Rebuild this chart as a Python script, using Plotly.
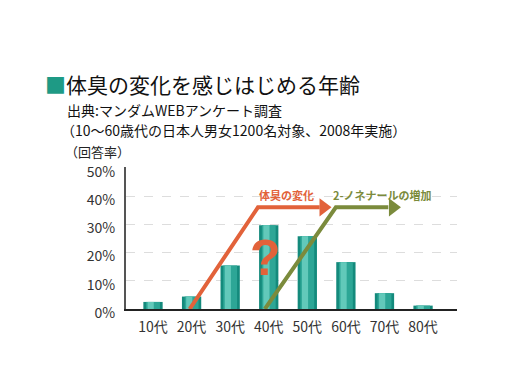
import plotly.graph_objects as go

categories = ["10代", "20代", "30代", "40代", "50代", "60代", "70代", "80代"]
values = [2.5, 4.4, 15.4, 29.7, 25.8, 16.6, 5.6, 1.2]
y_ticks = [0, 10, 20, 30, 40, 50]
y_tick_labels = ["0%", "10%", "20%", "30%", "40%", "50%"]

# arrow paths (category index, %)
orange_x = [0.95, 2.72, 4.32]
orange_y = [0, 36, 36]
orange_head_x = [4.42]
green_x = [2.9, 4.74, 6.1]
green_y = [0, 36, 36]
green_head_x = [6.22]
head_y = [36]

W, H = 512, 384
OFF = 8  # page body margin offset
ML, MR, MT, MB = 126 - OFF, 55 + OFF, 167 - OFF, 75 + OFF
FONT = "Noto Sans CJK JP"
ORANGE = "#E2623A"
GREEN = "#7B8B3C"

def px(x):
    return (x - OFF - ML) / (W - ML - MR)

def py(y):
    return (H - MB - (y - OFF)) / (H - MT - MB)

xs = list(range(len(categories)))
fig = go.Figure()
fig.add_trace(go.Bar(x=xs, y=values, width=0.5, marker=dict(color="#148A7C", line=dict(width=0)),
                     hoverinfo="skip"))
fig.add_trace(go.Bar(x=xs, y=values, width=0.36, marker=dict(color="#2DA696", line=dict(width=0)),
                     hoverinfo="skip"))
fig.add_trace(go.Bar(x=xs, y=values, width=0.16, offset=-0.14, marker=dict(color="#62C9BA", line=dict(width=0)),
                     hoverinfo="skip"))

fig.add_trace(go.Scatter(x=orange_x, y=orange_y, mode="lines",
                         line=dict(color=ORANGE, width=4), hoverinfo="skip"))
fig.add_trace(go.Scatter(x=orange_head_x, y=head_y, mode="markers",
                         marker=dict(symbol="triangle-right", size=16, color=ORANGE), hoverinfo="skip"))
fig.add_trace(go.Scatter(x=green_x, y=green_y, mode="lines",
                         line=dict(color=GREEN, width=4), hoverinfo="skip"))
fig.add_trace(go.Scatter(x=green_head_x, y=head_y, mode="markers",
                         marker=dict(symbol="triangle-right", size=16, color=GREEN), hoverinfo="skip"))

ann = []
ann.append(dict(x=px(43), y=py(84), xref="paper", yref="paper", xanchor="left", yanchor="middle",
                text="<span style='color:#1E9A85'>■</span>体臭の変化を感じはじめる年齢",
                showarrow=False, font=dict(family=FONT, size=21, color="#111")))
ann.append(dict(x=px(65), y=py(110), xref="paper", yref="paper", xanchor="left", yanchor="middle",
                text="出典:マンダムWEBアンケート調査", showarrow=False,
                font=dict(family=FONT, size=14, color="#111")))
ann.append(dict(x=px(59), y=py(130), xref="paper", yref="paper", xanchor="left", yanchor="middle",
                text="（10〜60歳代の日本人男女1200名対象、2008年実施）", showarrow=False,
                font=dict(family=FONT, size=14, color="#111")))
ann.append(dict(x=px(63), y=py(151), xref="paper", yref="paper", xanchor="left", yanchor="middle",
                text="（回答率）", showarrow=False,
                font=dict(family=FONT, size=13, color="#222")))
ann.append(dict(x=3.45, y=40.5, xref="x", yref="y", xanchor="center", yanchor="middle",
                text="<b>体臭の変化</b>", showarrow=False,
                font=dict(family=FONT, size=11, color=ORANGE)))
ann.append(dict(x=5.95, y=40.5, xref="x", yref="y", xanchor="center", yanchor="middle",
                text="<b>2-ノネナールの増加</b>", showarrow=False,
                font=dict(family=FONT, size=11, color=GREEN)))
ann.append(dict(x=2.92, y=18.2, xref="x", yref="y", xanchor="center", yanchor="middle",
                text="<b>?</b>", showarrow=False,
                font=dict(family="Liberation Sans", size=50, color=ORANGE)))

fig.update_layout(
    width=W, height=H, margin=dict(l=ML, r=MR, t=MT, b=MB),
    paper_bgcolor="white", plot_bgcolor="white",
    barmode="overlay", showlegend=False, annotations=ann,
    font=dict(family=FONT, color="#333"),
)
fig.update_xaxes(range=[-0.7, 7.88], tickvals=xs, ticktext=categories, showgrid=False,
                 showline=True, linecolor="#222", linewidth=2, ticks="", zeroline=False,
                 ticklabelstandoff=4,
                 tickfont=dict(family=FONT, size=14, color="#333"), fixedrange=True)
fig.update_yaxes(range=[0, 50.3], tickvals=y_ticks, ticktext=y_tick_labels, showgrid=True,
                 gridcolor="#DDDDDD", griddash="dash", gridwidth=1,
                 showline=True, linecolor="#555", linewidth=2, ticks="", zeroline=False,
                 ticklabelstandoff=6, ticklabelshift=4,
                 tickfont=dict(family=FONT, size=14, color="#333"), fixedrange=True)

fig.write_html("out.html")
